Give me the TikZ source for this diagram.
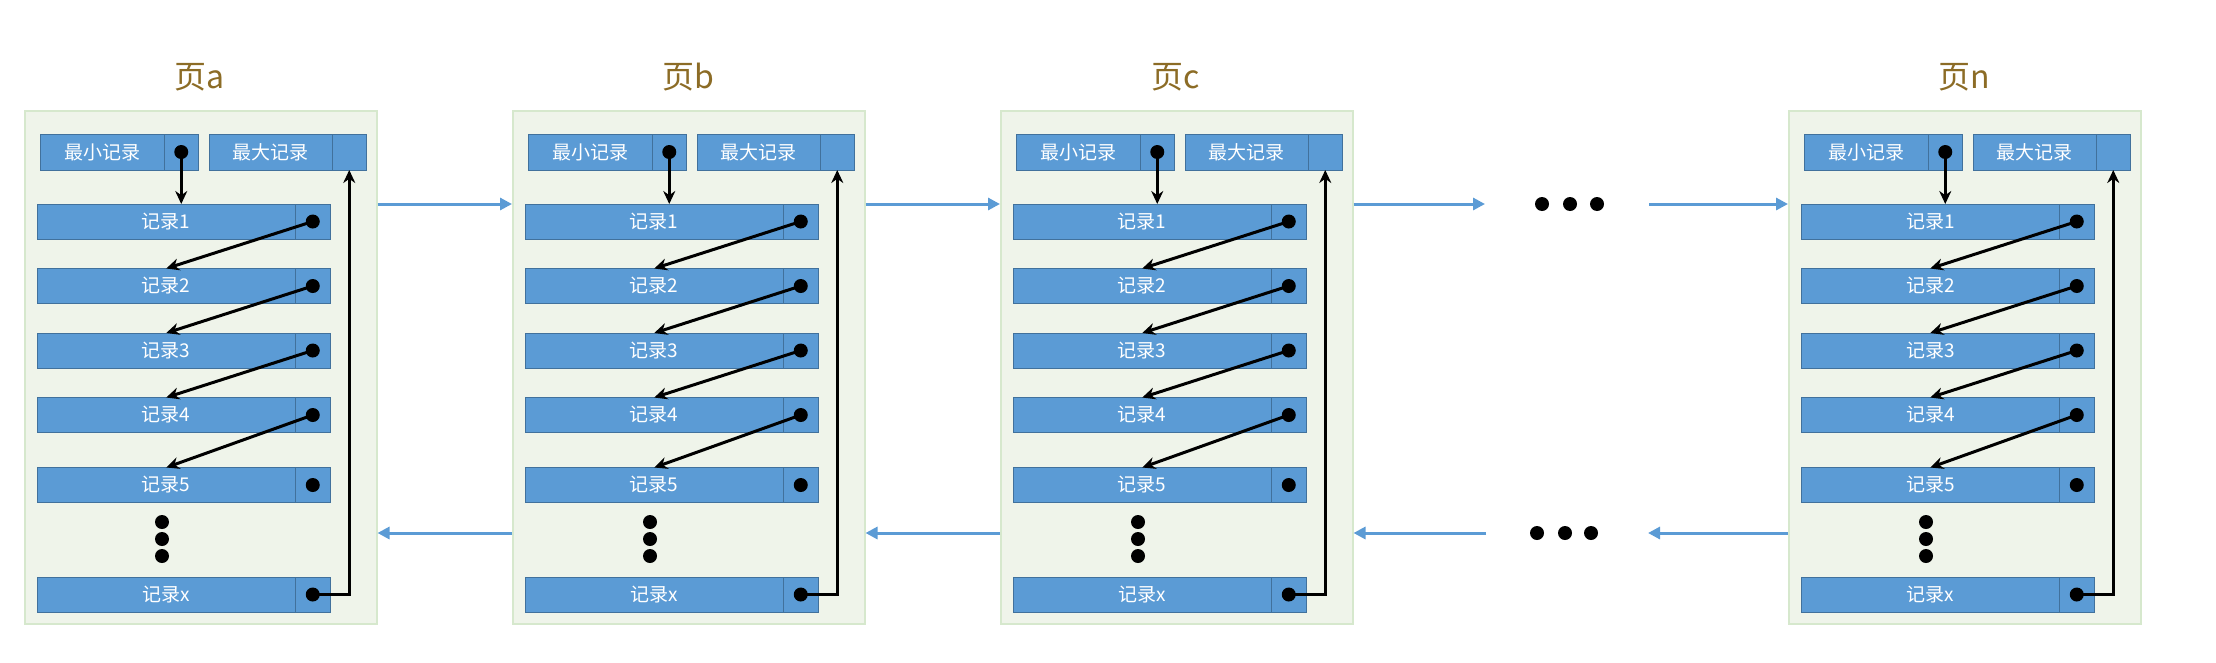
\documentclass[tikz,border=0pt]{standalone}
\usepackage{fontspec}
\setmainfont{Noto Sans CJK SC}
\usepackage{tikz}
\usetikzlibrary{arrows.meta,positioning}
\usepackage{xcolor}
\definecolor{recblue}{RGB}{91,155,213}
\definecolor{recedge}{RGB}{65,113,156}
\definecolor{pagefill}{RGB}{239,244,234}
\definecolor{pageedge}{RGB}{214,232,205}
\definecolor{titlegold}{RGB}{140,108,38}
\definecolor{linkblue}{RGB}{91,155,213}
\tikzstyle{pagebox} = [rectangle, draw=pageedge, fill=pagefill, line width=1.5pt, minimum width=352pt, minimum height=513pt, inner sep=0pt, anchor=north west]
\tikzstyle{record} = [rectangle, draw=recedge, fill=recblue, line width=1pt, minimum height=35pt, inner sep=0pt, outer sep=0pt, text=white, font=\fontsize{19}{22}\selectfont]
\tikzstyle{ptr} = [record, minimum width=34.5pt]
\tikzstyle{pagetitle} = [text=titlegold, font=\fontsize{32}{36}\selectfont]
\tikzstyle{ptrdot} = [circle, fill=black, inner sep=0pt, minimum size=14pt]
\tikzstyle{link} = [line width=3pt, -{Stealth[length=13pt,width=12pt]}]
\tikzstyle{pagelink} = [line width=3pt, color=linkblue, -{Triangle[length=12pt,width=12pt]}]

\begin{document}
\begin{tikzpicture}[x=1pt, y=-1pt]
\useasboundingbox (0,0) rectangle (2216,662);
% Pages
\foreach \p/\x in {a/24, b/512, c/1000, n/1788} {
  \node (\p) [pagebox] at (\x,110) {};
  \node (\p-title) [pagetitle] at (\x+176,77) {页\p};
  \coordinate (\p-low) at (\x,533);
  % min / max record
  \node (\p-min) [record, minimum width=124pt, minimum height=36pt, anchor=north west] at (\x+16,134) {最小记录};
  \node (\p-minp) [ptr, minimum height=36pt, right=0pt of \p-min] {};
  \node (\p-max) [record, minimum width=123pt, minimum height=36pt, anchor=north west] at (\x+185,134) {最大记录};
  \node (\p-maxp) [ptr, minimum height=36pt, right=0pt of \p-max] {};
  \node (\p-dmin) [ptrdot] at (\p-minp) {};
  % records
  \foreach \i/\y in {1/204, 2/268.5, 3/333, 4/397.5, 5/467.5, x/577} {
    \node (\p-r\i) [record, minimum width=258.5pt, anchor=north west] at (\x+13,\y) {记录\i};
    \node (\p-r\i p) [ptr, right=0pt of \p-r\i] {};
    \node (\p-d\i) [ptrdot] at (\p-r\i p) {};
  }
  % vertical ellipsis
  \node (\p-e1) [ptrdot] at (\x+138,522) {};
  \node (\p-e2) [ptrdot] at (\x+138,539) {};
  \node (\p-e3) [ptrdot] at (\x+138,556) {};
  % record links
  \draw[link] (\p-dmin.center) -- (\p-minp.center |- \p-r1.north);
  \draw[link] (\p-d1.center) -- (\p-r2.north);
  \draw[link] (\p-d2.center) -- (\p-r3.north);
  \draw[link] (\p-d3.center) -- (\p-r4.north);
  \draw[link] (\p-d4.center) -- (\p-r5.north);
  \draw[link] (\p-dx.center) -| (\p-maxp.south);
}

% Gap between page c and page n
\node (gt1) [ptrdot] at (1542,204) {};
\node (gt2) [ptrdot] at (1570,204) {};
\node (gt3) [ptrdot] at (1597,204) {};
\node (gb1) [ptrdot] at (1537,533) {};
\node (gb2) [ptrdot] at (1565,533) {};
\node (gb3) [ptrdot] at (1591,533) {};
\coordinate (gt-in) at (1485,204);
\coordinate (gt-out) at (1649,204);
\coordinate (gb-in) at (1648,533);
\coordinate (gb-out) at (1486,533);

% Page links
\draw[pagelink] (a.east |- a-r1.north) -- (b.west |- a-r1.north);
\draw[pagelink] (b.east |- b-r1.north) -- (c.west |- b-r1.north);
\draw[pagelink] (c.east |- c-r1.north) -- (gt-in);
\draw[pagelink] (gt-out) -- (n.west |- n-r1.north);
\draw[pagelink] (b.west |- b-low) -- (a.east |- b-low);
\draw[pagelink] (c.west |- c-low) -- (b.east |- c-low);
\draw[pagelink] (n.west |- n-low) -- (gb-in);
\draw[pagelink] (gb-out) -- (c.east |- c-low);
\end{tikzpicture}
\end{document}
